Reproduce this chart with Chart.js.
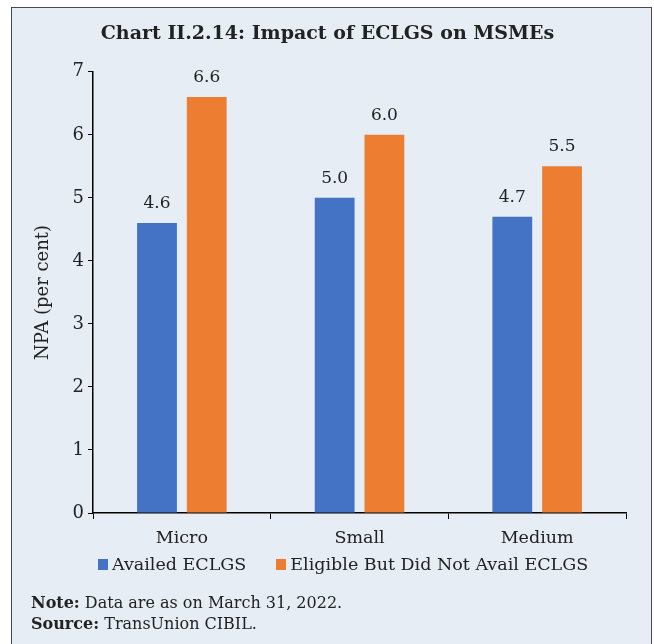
<!DOCTYPE html>
<html>
<head>
<meta charset="utf-8">
<script src="https://cdn.jsdelivr.net/npm/chart.js@4"></script>
<style>
  html, body { margin: 0; padding: 0; background: #ffffff; }
  body { width: 654px; height: 644px; position: relative; overflow: hidden; }
  #frame {
    position: absolute; left: 11px; top: 7px; width: 641px; height: 650px;
    background: #e6edf5; border: 1.5px solid #4a4a4a; box-sizing: border-box;
  }
  #wrap { position: absolute; left: 0; top: 0; width: 654px; height: 644px; }
  #legend {
    position: absolute; left: 98px; top: 554px; display: flex; align-items: center;
    font-family: "DejaVu Serif", serif; font-size: 17.5px; color: #222; white-space: nowrap;
  }
  #legend .item { display: flex; align-items: center; margin-right: 30px; }
  #legend .swatch { width: 10px; height: 11px; margin-right: 4px; }
  .notes {
    position: absolute; left: 31px; font-family: "DejaVu Serif", serif;
    font-size: 16px; color: #222; white-space: nowrap;
  }
  .notes b { font-weight: bold; }
</style>
</head>
<body>
<div id="frame"></div>
<div id="wrap"><canvas id="c" width="654" height="644"></canvas></div>
<div id="legend"></div>
<div class="notes" style="top:593px;"><b>Note:</b> Data are as on March 31, 2022.</div>
<div class="notes" style="top:614px;"><b>Source:</b> TransUnion CIBIL.</div>
<script>
// Firm size groups and NPA ratios (per cent)
const categories = ["Micro", "Small", "Medium"];
const availed = [4.6, 5.0, 4.7];
const notAvailed = [6.6, 6.0, 5.5];
const seriesNames = ["Availed ECLGS", "Eligible But Did Not Avail ECLGS"];
const seriesColors = ["#4472c4", "#ed7d31"];
const yTicks = [0, 1, 2, 3, 4, 5, 6, 7];

const serif = "'DejaVu Serif', 'Liberation Serif', serif";
const ink = "#222222";

// Writes each bar's value just above it
const valueLabels = {
  id: "valueLabels",
  afterDatasetsDraw(chart) {
    const ctx = chart.ctx;
    ctx.save();
    ctx.font = "17px " + serif;
    ctx.fillStyle = ink;
    ctx.textAlign = "center";
    ctx.textBaseline = "bottom";
    chart.data.datasets.forEach((ds, i) => {
      chart.getDatasetMeta(i).data.forEach((bar, j) => {
        ctx.fillText(ds.data[j].toFixed(1), bar.x, bar.y - 11);
      });
    });
    ctx.restore();
  }
};

const chart = new Chart(document.getElementById("c"), {
  type: "bar",
  data: {
    labels: categories,
    datasets: [
      { label: seriesNames[0], data: availed, backgroundColor: seriesColors[0] },
      { label: seriesNames[1], data: notAvailed, backgroundColor: seriesColors[1] }
    ]
  },
  options: {
    responsive: false,
    animation: false,
    devicePixelRatio: 1,
    layout: { padding: { left: 29, right: 28, top: 0, bottom: 86 } },
    categoryPercentage: 0.56,
    barPercentage: 0.8,
    plugins: {
      title: {
        display: true,
        text: "Chart II.2.14: Impact of ECLGS on MSMEs",
        font: { family: serif, size: 19, weight: "bold" },
        color: ink,
        padding: { top: 23, bottom: 26 }
      },
      legend: { display: false },
      tooltip: { enabled: false }
    },
    scales: {
      x: {
        grid: { display: true, offset: true, drawOnChartArea: false, drawTicks: true, tickLength: 6, color: "#000" },
        border: { color: "#000", width: 1.5 },
        ticks: { font: { family: serif, size: 17.5 }, color: ink, padding: 9 }
      },
      y: {
        min: 0,
        max: 7,
        afterBuildTicks(axis) { axis.ticks = yTicks.map(v => ({ value: v })); },
        grid: { display: true, drawOnChartArea: false, drawTicks: true, tickLength: 5, color: "#000" },
        border: { color: "#000", width: 1.5 },
        ticks: { font: { family: serif, size: 18 }, color: ink, padding: 4 },
        title: {
          display: true,
          text: "NPA (per cent)",
          font: { family: serif, size: 18 },
          color: ink,
          padding: { bottom: 14 }
        }
      }
    }
  },
  plugins: [valueLabels]
});

// Series key below the axis, built from the chart's own datasets
const legend = document.getElementById("legend");
chart.data.datasets.forEach(ds => {
  const item = document.createElement("div");
  item.className = "item";
  const sw = document.createElement("span");
  sw.className = "swatch";
  sw.style.background = ds.backgroundColor;
  const tx = document.createElement("span");
  tx.textContent = ds.label;
  item.appendChild(sw);
  item.appendChild(tx);
  legend.appendChild(item);
});
</script>
</body>
</html>
